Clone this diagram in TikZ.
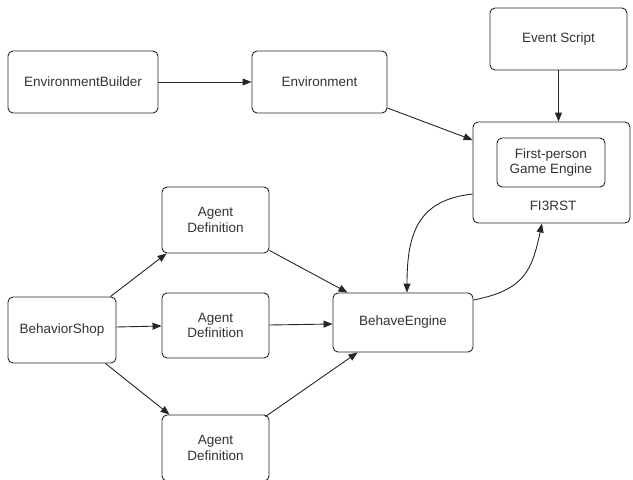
\documentclass[tikz,border=0pt]{standalone}
\usepackage{fontspec}
\setmainfont{Liberation Sans}
\usetikzlibrary{arrows.meta,calc}
\begin{document}
\begin{tikzpicture}[x=1pt,y=-1pt,
  box/.style={draw=black!85, line width=0.9pt, rounded corners=5pt, inner sep=0pt, align=center,
    font=\fontsize{13.5}{15.5}\selectfont, text=black!80},
  conn/.style={draw=black!85, line width=0.9pt, -{Triangle[length=9pt,width=7pt]}}]
\useasboundingbox (0,0) rectangle (633,480);
\begin{scope}
\clip (0,0) rectangle (633,480);
\node[box, minimum width=150pt, minimum height=62pt] (eb) at (83,82) {EnvironmentBuilder};
\node[box, minimum width=135pt, minimum height=62pt] (env) at (319.5,82) {Environment};
\node[box, minimum width=137pt, minimum height=62pt] (es) at (558.5,39) {Event Script};
\node[box, minimum width=157pt, minimum height=101pt] (fi) at (551.5,172.5) {};
\node[box, minimum width=108pt, minimum height=49pt] (inner) at (551,162.5) {First-person\\Game Engine};
\node[font=\fontsize{13.5}{15.5}\selectfont, text=black!80, inner sep=0pt] (filabel) at (553,206) {FI3RST};
\node[box, minimum width=107pt, minimum height=66pt] (ad1) at (215.5,220) {Agent\\Definition};
\node[box, minimum width=107pt, minimum height=65pt] (ad2) at (215.5,325.5) {Agent\\Definition};
\node[box, minimum width=107pt, minimum height=66pt] (ad3) at (215.5,448) {Agent\\Definition};
\node[box, minimum width=108pt, minimum height=66pt] (bs) at (62,330) {BehaviorShop};
\node[box, minimum width=140pt, minimum height=59pt] (be) at (403,322.5) {BehaveEngine};

\draw[conn] (eb.east) -- (env.west);
\draw[conn] (env.east |- 0,108) -- (fi.west |- 0,140);
\draw[conn] (es.south) -- (es.south |- fi.north);
\draw[conn] (fi.west |- 0,194) .. controls (420,200) and (407,230) .. (be.north -| 407,0);
\draw[conn] (be.east |- 0,300) .. controls (525,290) and (532,270) .. (fi.south -| 542,0);
\draw[conn] ($(bs.north east)+(-6,0)$) -- ($(ad1.south west)+(5,0)$);
\draw[conn] (bs.east |- 0,327) -- (ad2.west |- 0,326);
\draw[conn] ($(bs.south east)+(-11,0)$) -- ($(ad3.north west)+(8,0)$);
\draw[conn] ($(ad1.south east)+(0,-3)$) -- ($(be.north west)+(15,0)$);
\draw[conn] (ad2.east |- 0,325) -- (be.west |- 0,324);
\draw[conn] ($(ad3.north east)+(-4,2)$) -- ($(be.south west)+(25,0)$);
\end{scope}
\end{tikzpicture}
\end{document}
